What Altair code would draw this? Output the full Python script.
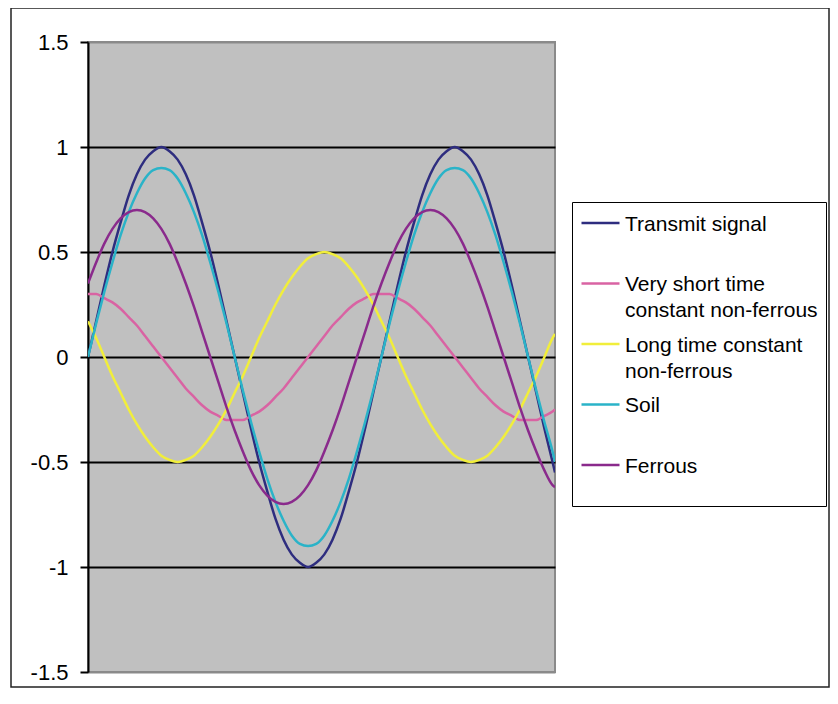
import altair as alt
import pandas as pd

# phase (degrees) of each sample along the horizontal axis
phase = list(range(0, 571, 10)) + [573]

series_names = [
    "Transmit signal",
    "Very short time\nconstant non-ferrous",
    "Long time constant\nnon-ferrous",
    "Soil",
    "Ferrous",
]

transmit = [0.00, 0.17, 0.34, 0.50, 0.64, 0.77, 0.87, 0.94, 0.98, 1.00,
            0.98, 0.94, 0.87, 0.77, 0.64, 0.50, 0.34, 0.17, 0.00,
            -0.17, -0.34, -0.50, -0.64, -0.77, -0.87, -0.94, -0.98, -1.00,
            -0.98, -0.94, -0.87, -0.77, -0.64, -0.50, -0.34, -0.17, 0.00,
            0.17, 0.34, 0.50, 0.64, 0.77, 0.87, 0.94, 0.98, 1.00,
            0.98, 0.94, 0.87, 0.77, 0.64, 0.50, 0.34, 0.17, 0.00,
            -0.17, -0.34, -0.50, -0.55]

very_short = [0.30, 0.30, 0.28, 0.26, 0.23, 0.19, 0.15, 0.10, 0.05, 0.00,
              -0.05, -0.10, -0.15, -0.19, -0.23, -0.26, -0.28, -0.30, -0.30,
              -0.30, -0.28, -0.26, -0.23, -0.19, -0.15, -0.10, -0.05, 0.00,
              0.05, 0.10, 0.15, 0.19, 0.23, 0.26, 0.28, 0.30, 0.30,
              0.30, 0.28, 0.26, 0.23, 0.19, 0.15, 0.10, 0.05, 0.00,
              -0.05, -0.10, -0.15, -0.19, -0.23, -0.26, -0.28, -0.30, -0.30,
              -0.30, -0.28, -0.26, -0.25]

long_tc = [0.17, 0.09, 0.00, -0.09, -0.17, -0.25, -0.32, -0.38, -0.43, -0.47,
           -0.49, -0.50, -0.49, -0.47, -0.43, -0.38, -0.32, -0.25, -0.17,
           -0.09, 0.00, 0.09, 0.17, 0.25, 0.32, 0.38, 0.43, 0.47,
           0.49, 0.50, 0.49, 0.47, 0.43, 0.38, 0.32, 0.25, 0.17,
           0.09, 0.00, -0.09, -0.17, -0.25, -0.32, -0.38, -0.43, -0.47,
           -0.49, -0.50, -0.49, -0.47, -0.43, -0.38, -0.32, -0.25, -0.17,
           -0.09, 0.00, 0.09, 0.11]

soil = [0.00, 0.16, 0.31, 0.45, 0.58, 0.69, 0.78, 0.85, 0.89, 0.90,
        0.89, 0.85, 0.78, 0.69, 0.58, 0.45, 0.31, 0.16, 0.00,
        -0.16, -0.31, -0.45, -0.58, -0.69, -0.78, -0.85, -0.89, -0.90,
        -0.89, -0.85, -0.78, -0.69, -0.58, -0.45, -0.31, -0.16, 0.00,
        0.16, 0.31, 0.45, 0.58, 0.69, 0.78, 0.85, 0.89, 0.90,
        0.89, 0.85, 0.78, 0.69, 0.58, 0.45, 0.31, 0.16, 0.00,
        -0.16, -0.31, -0.45, -0.50]

ferrous = [0.35, 0.45, 0.54, 0.61, 0.66, 0.69, 0.70, 0.69, 0.66, 0.61,
           0.54, 0.45, 0.35, 0.24, 0.12, 0.00, -0.12, -0.24, -0.35,
           -0.45, -0.54, -0.61, -0.66, -0.69, -0.70, -0.69, -0.66, -0.61,
           -0.54, -0.45, -0.35, -0.24, -0.12, 0.00, 0.12, 0.24, 0.35,
           0.45, 0.54, 0.61, 0.66, 0.69, 0.70, 0.69, 0.66, 0.61,
           0.54, 0.45, 0.35, 0.24, 0.12, 0.00, -0.12, -0.24, -0.35,
           -0.45, -0.54, -0.61, -0.62]

y_ticks = [-1.5, -1, -0.5, 0, 0.5, 1, 1.5]

colors = ["#2e2d7f", "#d963a3", "#f1ee3b", "#2ab3c8", "#8a2a8c"]

rows = []
for i, (name, vals) in enumerate(zip(series_names, [transmit, very_short, long_tc, soil, ferrous])):
    for p, v in zip(phase, vals):
        rows.append({"phase": p, "value": v, "series": name, "k": i})
df = pd.DataFrame(rows)

FONT = "Liberation Sans"

lines = alt.Chart(df).mark_line(strokeWidth=2.5, interpolate="monotone", clip=True).encode(
    x=alt.X("phase:Q", scale=alt.Scale(domain=[0, 573], nice=False, zero=False), axis=None),
    y=alt.Y(
        "value:Q",
        scale=alt.Scale(domain=[-1.5, 1.5], nice=False),
        axis=alt.Axis(
            values=y_ticks,
            labelExpr="'' + datum.value",
            title=None,
            tickSize=8,
            tickWidth=2,
            tickColor="black",
            domainColor="black",
            domainWidth=2,
            labelFont=FONT,
            labelFontSize=22,
            labelColor="black",
            labelPadding=12,
            grid=True,
            gridWidth=2,
            gridOpacity=1,
            gridColor={"condition": {"test": "abs(datum.value) > 1.4", "value": "#8a8a8a"}, "value": "black"},
        ),
    ),
    color=alt.Color(
        "series:N",
        scale=alt.Scale(domain=series_names, range=colors),
        legend=alt.Legend(
            title=" ",
            titleOrient="bottom",
            titleFontSize=11,
            titlePadding=10,
            orient="none",
            legendX=484,
            legendY=160,
            direction="vertical",
            symbolType="M-1,-0.40H1",
            symbolSize=1444,
            symbolStrokeWidth=2.5,
            symbolOpacity=1,
            labelFont=FONT,
            labelFontSize=21,
            labelColor="black",
            labelLimit=500,
            labelOffset=4,
            labelBaseline="alphabetic",
            labelExpr="split(datum.label, '\\n')",
            strokeColor="black",
            fillColor="white",
            padding=8,
            rowPadding=9.5,
            gridAlign="all",
            cornerRadius=0,
        ),
    ),
    order=alt.Order("k:Q"),
)

frame = alt.Chart(pd.DataFrame({"f": [0]})).mark_rect(
    filled=False, stroke="#222222", strokeWidth=1.5
).encode(
    x=alt.value(-77), x2=alt.value(741), y=alt.value(-34), y2=alt.value(645)
)

chart = alt.layer(frame, lines).properties(
    width=467,
    height=630,
    autosize=alt.AutoSizeParams(type="none"),
    padding={"left": 80, "top": 34, "right": 275, "bottom": 16},
).configure(
    background="white",
    style={"guide-label": {"lineHeight": 26}},
).configure_view(
    fill="#c0c0c0",
    stroke="#8a8a8a",
    strokeWidth=2,
)

chart.save("out.html", embed_options={"renderer": "svg", "actions": False})
